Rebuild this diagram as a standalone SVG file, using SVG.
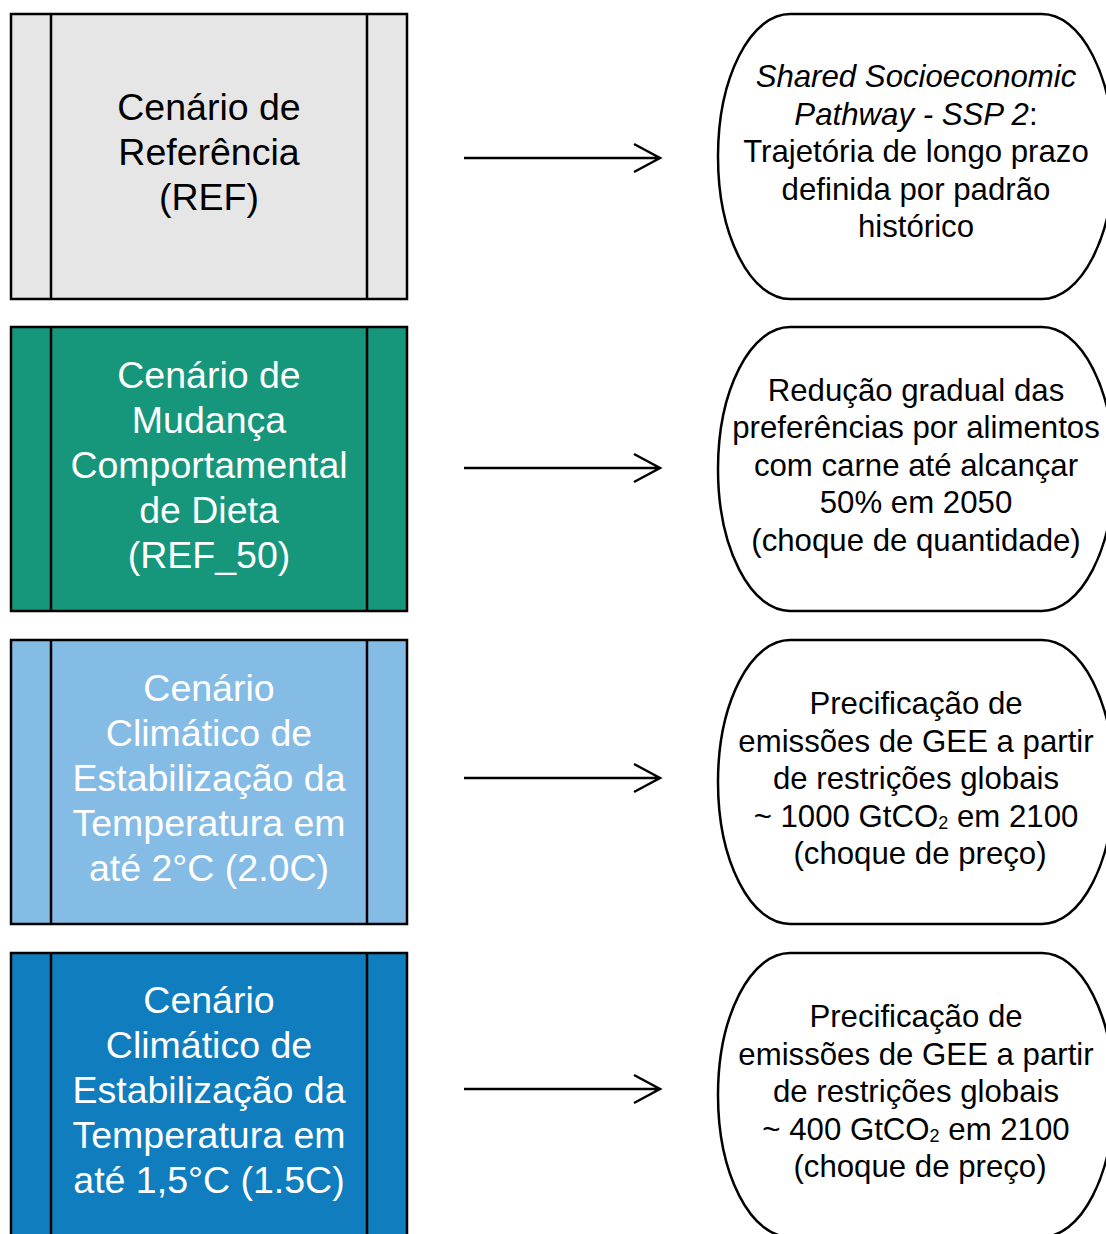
<svg xmlns="http://www.w3.org/2000/svg" width="1106" height="1234" viewBox="0 0 1106 1234">
<style>
.box{stroke:#000;stroke-width:2.5}
.div{stroke:#000;stroke-width:2.5}
.term{fill:#fff;stroke:#000;stroke-width:2.5}
.lt{font-family:"Liberation Sans",Arial,sans-serif;font-size:37.5px;text-anchor:middle}
.rt{font-family:"Liberation Sans",Arial,sans-serif;font-size:31.2px;text-anchor:middle;fill:#000}
.dark{fill:#000}
.light{fill:#fff}
.conn{stroke:#000;stroke-width:2.5;fill:none}
.sub{font-size:18px}
</style>
<rect width="1106" height="1234" fill="#fff"/>

<g id="ref">
<rect class="box" x="11" y="14" width="396" height="285" fill="#E6E6E6"/>
<line class="div" x1="51" y1="14" x2="51" y2="299"/>
<line class="div" x1="367" y1="14" x2="367" y2="299"/>
<text class="lt dark" x="209"><tspan x="209" y="119.5">Cenário de</tspan><tspan x="209" y="164.5">Referência</tspan><tspan x="209" y="209.5">(REF)</tspan></text>
</g>

<g id="ref50">
<rect class="box" x="11" y="327" width="396" height="284" fill="#16967B"/>
<line class="div" x1="51" y1="327" x2="51" y2="611"/>
<line class="div" x1="367" y1="327" x2="367" y2="611"/>
<text class="lt light" x="209"><tspan x="209" y="388">Cenário de</tspan><tspan x="209" y="433">Mudança</tspan><tspan x="209" y="478">Comportamental</tspan><tspan x="209" y="523">de Dieta</tspan><tspan x="209" y="568">(REF_50)</tspan></text>
</g>

<g id="c20">
<rect class="box" x="11" y="640" width="396" height="284" fill="#85BCE6"/>
<line class="div" x1="51" y1="640" x2="51" y2="924"/>
<line class="div" x1="367" y1="640" x2="367" y2="924"/>
<text class="lt light" x="209"><tspan x="209" y="701">Cenário</tspan><tspan x="209" y="746">Climático de</tspan><tspan x="209" y="791">Estabilização da</tspan><tspan x="209" y="836">Temperatura em</tspan><tspan x="209" y="881">até 2°C (2.0C)</tspan></text>
</g>

<g id="c15">
<rect class="box" x="11" y="953" width="396" height="290" fill="#0F7DBE"/>
<line class="div" x1="51" y1="953" x2="51" y2="1243"/>
<line class="div" x1="367" y1="953" x2="367" y2="1243"/>
<text class="lt light" x="209"><tspan x="209" y="1013">Cenário</tspan><tspan x="209" y="1058">Climático de</tspan><tspan x="209" y="1103">Estabilização da</tspan><tspan x="209" y="1148">Temperatura em</tspan><tspan x="209" y="1193">até 1,5°C (1.5C)</tspan></text>
</g>

<g id="ssp2">
<rect class="term" x="718" y="14" width="396" height="285" rx="72" ry="142.5"/>
<text class="rt"><tspan x="916" y="87" font-style="italic">Shared Socioeconomic</tspan><tspan x="916" y="124.5"><tspan font-style="italic">Pathway - SSP 2</tspan>:</tspan><tspan x="916" y="162">Trajetória de longo prazo</tspan><tspan x="916" y="199.5">definida por padrão</tspan><tspan x="916" y="237">histórico</tspan></text>
</g>

<g id="dieta">
<rect class="term" x="718" y="327" width="396" height="284" rx="72" ry="142"/>
<text class="rt"><tspan x="916" y="400.5">Redução gradual das</tspan><tspan x="916" y="438">preferências por alimentos</tspan><tspan x="916" y="475.5">com carne até alcançar</tspan><tspan x="916" y="513">50% em 2050</tspan><tspan x="916" y="550.5">(choque de quantidade)</tspan></text>
</g>

<g id="preco20">
<rect class="term" x="718" y="640" width="396" height="284" rx="72" ry="142"/>
<text class="rt"><tspan x="916" y="714">Precificação de</tspan><tspan x="916" y="751.5">emissões de GEE a partir</tspan><tspan x="916" y="789">de restrições globais</tspan><tspan x="916" y="826.5">~ 1000 GtCO<tspan class="sub" dy="2">2</tspan><tspan dy="-2"> em 2100</tspan></tspan><tspan x="920" y="864">(choque de preço)</tspan></text>
</g>

<g id="preco15">
<rect class="term" x="718" y="953" width="396" height="284" rx="72" ry="142"/>
<text class="rt"><tspan x="916" y="1027">Precificação de</tspan><tspan x="916" y="1064.5">emissões de GEE a partir</tspan><tspan x="916" y="1102">de restrições globais</tspan><tspan x="916" y="1139.5">~ 400 GtCO<tspan class="sub" dy="2">2</tspan><tspan dy="-2"> em 2100</tspan></tspan><tspan x="920" y="1177">(choque de preço)</tspan></text>
</g>

<g id="connectors">
<path class="conn" d="M464 158H660M634 144L660 158L634 172"/>
<path class="conn" d="M464 468H660M634 454L660 468L634 482"/>
<path class="conn" d="M464 778H660M634 764L660 778L634 792"/>
<path class="conn" d="M464 1089H660M634 1075L660 1089L634 1103"/>
</g>
</svg>
